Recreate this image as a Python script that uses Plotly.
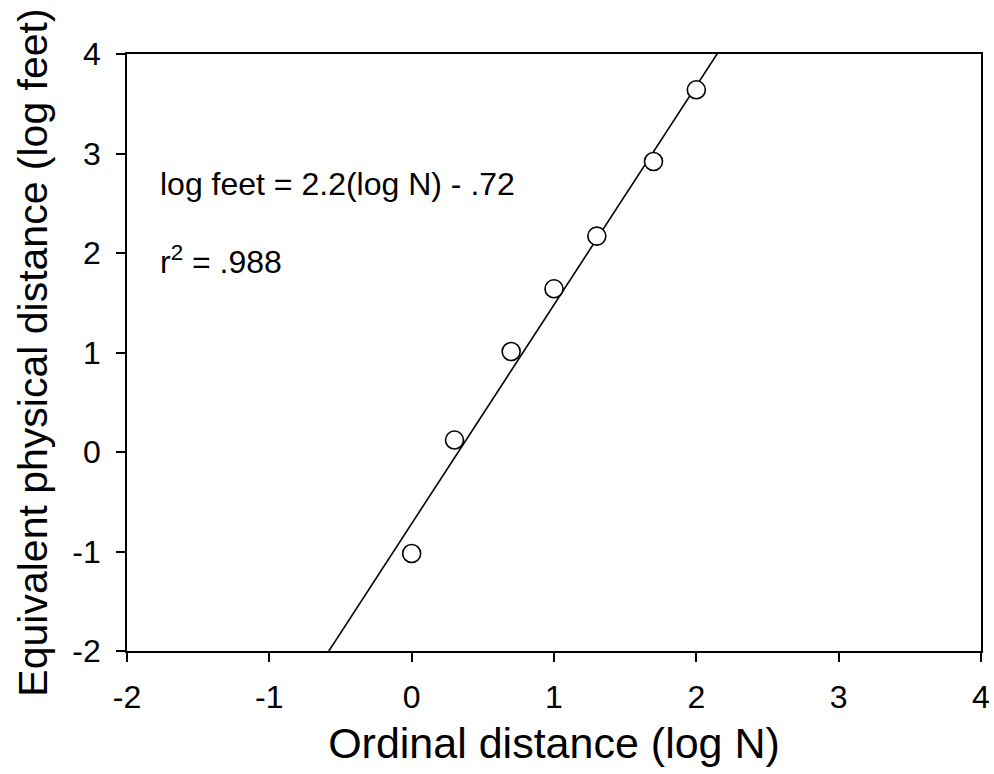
import numpy as np
import plotly.graph_objects as go

# Data
log_n = [0.0, 0.301, 0.699, 1.0, 1.301, 1.699, 2.0]
log_feet = [-1.02, 0.12, 1.01, 1.64, 2.17, 2.92, 3.64]
slope = 2.2
intercept = -0.72
x_ticks = [-2, -1, 0, 1, 2, 3, 4]
y_ticks = [-2, -1, 0, 1, 2, 3, 4]

font_family = "Liberation Sans, Arial, Helvetica, sans-serif"

fit_x = np.array([-2.0, 4.0])
fit_y = slope * fit_x + intercept

fig = go.Figure()
fig.add_trace(go.Scatter(
    x=fit_x, y=fit_y, mode="lines",
    line=dict(color="black", width=1.6), hoverinfo="skip", showlegend=False,
))
fig.add_trace(go.Scatter(
    x=log_n, y=log_feet, mode="markers",
    marker=dict(symbol="circle", size=18, color="white",
                line=dict(color="black", width=1.6)),
    showlegend=False, cliponaxis=False,
))

fig.add_annotation(
    x=-1.78, y=2.69, xref="x", yref="y", xanchor="left", yanchor="middle",
    text="log feet = 2.2(log N) - .72", showarrow=False,
    font=dict(family=font_family, size=32, color="black"),
)
fig.add_annotation(
    x=-1.78, y=1.93, xref="x", yref="y", xanchor="left", yanchor="middle",
    text="r<sup>2</sup> = .988", showarrow=False,
    font=dict(family=font_family, size=32, color="black"),
)

axis_common = dict(
    showgrid=False, zeroline=False, showline=True, linecolor="black", linewidth=1.6,
    mirror=True, ticks="outside", ticklen=9, tickwidth=1.6, tickcolor="black",
    tickfont=dict(family=font_family, size=32, color="black"),
    automargin=False,
)

fig.update_xaxes(
    range=[-2, 4], tickvals=x_ticks, ticktext=[str(v) for v in x_ticks],
    ticklabelstandoff=8,
    title=dict(text="Ordinal distance (log N)",
               font=dict(family=font_family, size=43, color="black"), standoff=14),
    **axis_common,
)
fig.update_yaxes(
    range=[-2, 4], tickvals=y_ticks, ticktext=[str(v) for v in y_ticks],
    ticklabelstandoff=9,
    title=dict(text="Equivalent physical distance (log feet)",
               font=dict(family=font_family, size=41, color="black"), standoff=12),
    **axis_common,
)

fig.update_layout(
    width=994, height=774,
    margin=dict(l=127, r=13, t=54, b=123),
    plot_bgcolor="white", paper_bgcolor="white",
    showlegend=False,
)

fig.write_html("out.html")
